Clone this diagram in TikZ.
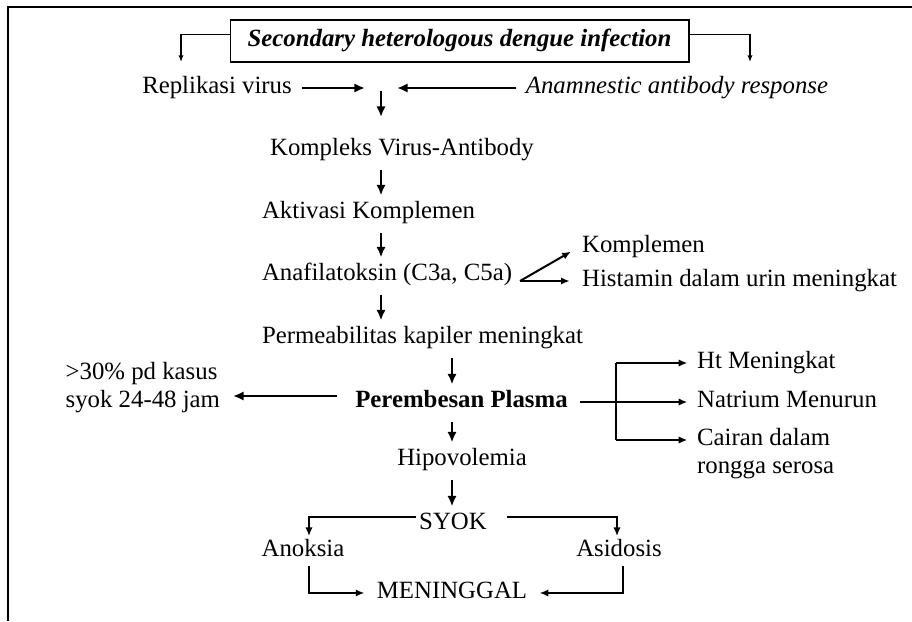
\documentclass[tikz,border=0pt]{standalone}
\usepackage{fontspec}
\setmainfont{Liberation Serif}
\usetikzlibrary{arrows.meta}
\tikzset{every picture/.style={line width=0.75pt}}
\tikzset{
  txt/.style={inner sep=2pt, font=\fontsize{18.6}{22}\selectfont, text height=13pt, text depth=4.6pt},
  itxt/.style={txt, font=\fontsize{18.6}{22}\selectfont\itshape},
  btxt/.style={txt, font=\fontsize{18.6}{22}\selectfont\bfseries},
  flow/.style={-{Latex[length=8pt,width=7pt]}, line width=2pt},
  down/.style={flow, shorten <=4pt, shorten >=2pt},
  side/.style={-{Latex[length=6.5pt,width=5.5pt]}, line width=1.5pt},
  thinarr/.style={-{Latex[length=5pt,width=4pt]}, line width=1pt},
}

\begin{document}
\begin{tikzpicture}[x=0.75pt,y=0.75pt,yscale=-1,xscale=1]
\useasboundingbox (0,0) rectangle (912,621);

%Frame
\draw [line width=2.2pt] (8,621) -- (8,7) -- (912,7) ;

%Title box
\node [itxt, font=\fontsize{18.6}{22}\selectfont\bfseries\itshape, draw, line width=1pt, minimum width=344pt, minimum height=31.5pt] (infection) at (459.5,41) {Secondary heterologous dengue infection};
\coordinate (brL) at (181,62);
\coordinate (brR) at (750,62);
\draw [thinarr] ([yshift=-5pt]infection.west) -| (brL) ;
\draw [thinarr] ([yshift=-5pt]infection.east) -| (brR) ;

% Text Node
\node [txt] (replikasi) at (217,88) {Replikasi virus};
% Text Node
\node [itxt] (anamnestic) at (677,88) {Anamnestic antibody response};
\coordinate (fromL) at (365,88);
\coordinate (fromR) at (397,88);
\coordinate (merge) at (381,91);
\coordinate (mergeEnd) at (381,117);
\draw [flow, shorten <=5pt] (replikasi) -- (fromL) ;
\draw [flow, shorten <=5pt] (anamnestic) -- (fromR) ;
\draw [flow] (merge) -- (mergeEnd) ;

%Main column
\coordinate (colA) at (381,0);
\coordinate (colB) at (452,0);
% Text Node
\node [txt] (kompleks) at (402,150) {Kompleks Virus-Antibody};
% Text Node
\node [txt] (aktivasi) at (368.5,213) {Aktivasi Komplemen};
% Text Node
\node [txt] (anafilatoksin) at (387,275) {Anafilatoksin (C3a, C5a)};
% Text Node
\node [txt] (permeabilitas) at (422.5,338) {Permeabilitas kapiler meningkat};
% Text Node
\node [btxt] (perembesan) at (461.5,402) {Perembesan Plasma};
% Text Node
\node [txt] (hipovolemia) at (462,460) {Hipovolemia};
% Text Node
\node [txt] (syok) at (453,524) {SYOK};
% Text Node
\node [txt] (anoksia) at (303,551) {Anoksia};
% Text Node
\node [txt] (asidosis) at (619,551) {Asidosis};
% Text Node
\node [txt] (meninggal) at (452,593) {MENINGGAL};

\draw [down] (kompleks.south -| colA) -- (aktivasi.north -| colA) ;
\draw [down] (aktivasi.south -| colA) -- (anafilatoksin.north -| colA) ;
\draw [down] (anafilatoksin.south -| colA) -- (permeabilitas.north -| colA) ;
\draw [down] (permeabilitas.south -| colB) -- (perembesan.north -| colB) ;
\draw [down] (perembesan.south -| colB) -- (hipovolemia.north -| colB) ;
\draw [down] (hipovolemia.south -| colB) -- (syok.north -| colB) ;

%Anafilatoksin branches
\coordinate (fork) at (520,281);
% Text Node
\node [txt, anchor=west] (komplemen) at (579,247) {Komplemen};
% Text Node
\node [txt, anchor=west] (histamin) at (579,281) {Histamin dalam urin meningkat};
\draw [side, shorten >=7pt] (fork) -- (komplemen.west) ;
\draw [side, shorten >=7pt] (fork) -- (histamin) ;

%Perembesan left
\coordinate (toPct) at (233,396);
% Text Node
\node [txt, anchor=west] (pct) at (62.5,374) {>30\% pd kasus};
% Text Node
\node [txt, anchor=west] (syokjam) at (62.5,402) {syok 24-48 jam};
\draw [flow] ([xshift=-11pt,yshift=-4.5pt]perembesan.west) -- (toPct) ;

%Perembesan right
\coordinate (split) at (616,402);
% Text Node
\node [txt, anchor=west] (ht) at (694,363) {Ht Meningkat};
% Text Node
\node [txt, anchor=west] (natrium) at (694,402) {Natrium Menurun};
% Text Node
\node [txt, anchor=west] (cairan) at (694,440) {Cairan dalam};
% Text Node
\node [txt, anchor=west] (rongga) at (694,468) {rongga serosa};
\draw [line width=1.5pt] ([xshift=7pt]perembesan.east) -- (split) ;
\draw [line width=1.5pt] (split |- ht) -- (split |- cairan) ;
\draw [side, shorten >=5pt] (split |- ht) -- (ht) ;
\draw [side, shorten >=5pt] (split) -- (natrium) ;
\draw [side, shorten >=5pt] (split |- cairan) -- (cairan) ;

%SYOK branches
\coordinate (dropL) at (309,0);
\coordinate (dropR) at (617,0);
\coordinate (riseR) at (623,0);
\draw [side] ([yshift=-5pt]syok.west) -| (dropL |- anoksia.north) ;
\draw [side] ([xshift=13pt,yshift=-5pt]syok.east) -| (dropR |- asidosis.north) ;
\draw [side, shorten >=7pt] (anoksia.south -| dropL) |- (meninggal.west) ;
\draw [side, shorten >=7pt] (asidosis.south -| riseR) |- (meninggal.east) ;
\end{tikzpicture}
\end{document}
